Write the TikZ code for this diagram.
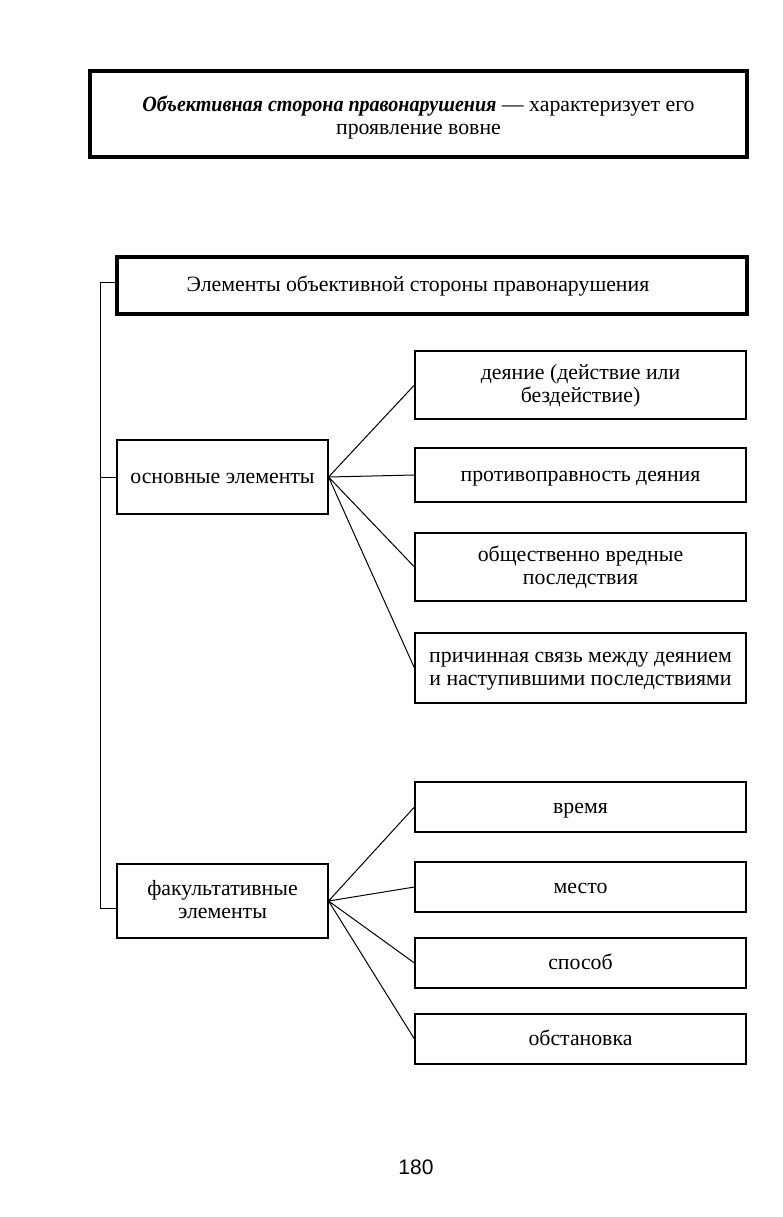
\documentclass[tikz,border=0pt]{standalone}
\usepackage{fontspec}
\setmainfont{Liberation Serif}
\newfontfamily\bifont[FakeStretch=0.92]{Liberation Serif}
\newfontfamily\pagefont{Liberation Sans}
\begin{document}
\begin{tikzpicture}[x=1pt,y=-1pt,
  box/.style={draw, line width=1.1pt, inner sep=0pt, align=center,
    text height=17pt, text depth=5pt,
    font=\fontsize{21.8}{23.5}\selectfont},
  twoline/.style={text height=40.5pt},
  thickbox/.style={box, line width=3.8pt},
  link/.style={line width=1pt}]
\useasboundingbox (0,0) rectangle (783,1217);
\node[thickbox, minimum width=657, minimum height=86, text height=47pt] (top) at (418.5,114)
  {{\bifont\bfseries\itshape Объективная сторона правонарушения} — характеризует его\\проявление вовне};
\node[thickbox, minimum width=630, minimum height=57] (hdr) at (432,285.5)
  {\hspace*{-28pt}Элементы объективной стороны правонарушения};
\node[box, minimum width=211, minimum height=74] (osn) at (222.5,477) {основные элементы};
\node[box, twoline, minimum width=211, minimum height=74] (fak) at (222.5,901) {факультативные\\элементы};
\node[box, twoline, minimum width=331, minimum height=68] (r1) at (580.5,385) {деяние (действие или\\бездействие)};
\node[box, minimum width=331, minimum height=54] (r2) at (580.5,475) {противоправность деяния};
\node[box, twoline, minimum width=331, minimum height=68] (r3) at (580.5,567) {общественно вредные\\последствия};
\node[box, twoline, minimum width=331, minimum height=70] (r4) at (580.5,668) {причинная связь между деянием\\и наступившими последствиями};
\node[box, minimum width=331, minimum height=50] (r5) at (580.5,807) {время};
\node[box, minimum width=331, minimum height=50] (r6) at (580.5,887) {место};
\node[box, minimum width=331, minimum height=50] (r7) at (580.5,963) {способ};
\node[box, minimum width=331, minimum height=50] (r8) at (580.5,1039) {обстановка};
\coordinate (sp1) at (100,282);
\coordinate (sp2) at (100,908);
\draw[link] (hdr.west |- sp1) -- (sp1) -- (sp2) -- (fak.west |- sp2);
\draw[link] (sp1 |- osn.west) -- (osn.west);
\foreach \r in {r1,r2,r3,r4} \draw[link] (osn.east) -- (\r.west);
\foreach \r in {r5,r6,r7,r8} \draw[link] (fak.east) -- (\r.west);
\node[font=\pagefont\fontsize{21}{24}\selectfont] (pg) at (416,1167) {180};
\end{tikzpicture}
\end{document}
